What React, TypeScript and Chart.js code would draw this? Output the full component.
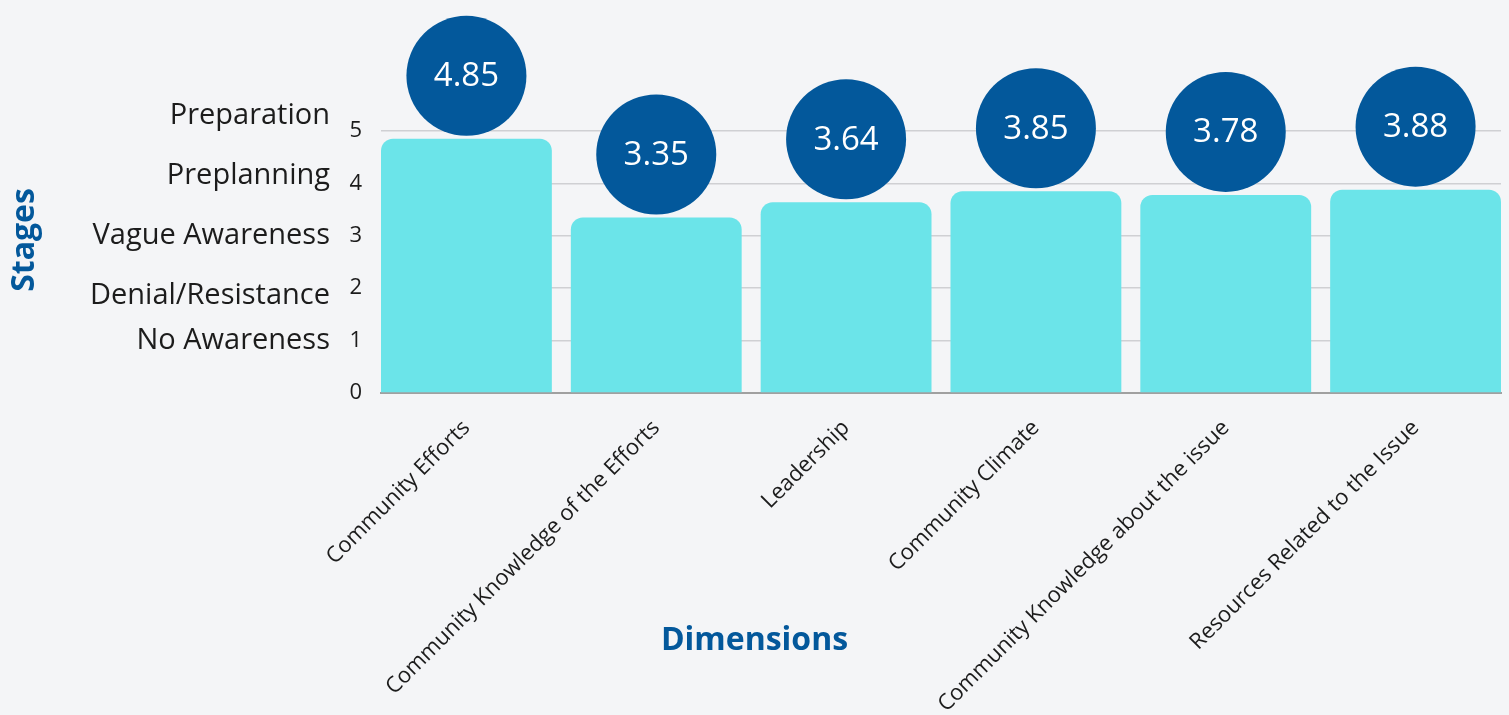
import React, { useEffect, useRef } from "react";
import { Chart, registerables } from "chart.js";

Chart.register(...registerables);

const categories = [
  "Community Efforts",
  "Community Knowledge of the Efforts",
  "Leadership",
  "Community Climate",
  "Community Knowledge about the issue",
  "Resources Related to the Issue",
];
const scores = [4.85, 3.35, 3.64, 3.85, 3.78, 3.88];
const stageLabels = ["No Awareness", "Denial/Resistance", "Vague Awareness", "Preplanning", "Preparation"];
const stageLevels = [1, 1.85, 3, 4.15, 5.3];
const xAxisTitle = "Dimensions";
const yAxisTitle = "Stages";

const FONT = '"Open Sans", "Noto Sans", sans-serif';
const DARK = "#03589b";
const BAR = "#6be4e9";
const BG = "#f4f5f7";

const overlay = {
  id: "overlay",
  afterDatasetsDraw(chart: any) {
    const ctx = chart.ctx;
    const area = chart.chartArea;
    const meta = chart.getDatasetMeta(0);
    ctx.save();
    meta.data.forEach((bar: any, i: number) => {
      const cx = bar.x;
      const cy = bar.y - 63;
      ctx.beginPath();
      ctx.arc(cx, cy, 60, 0, Math.PI * 2);
      ctx.fillStyle = DARK;
      ctx.fill();
      ctx.fillStyle = "#ffffff";
      ctx.font = `33px ${FONT}`;
      ctx.textAlign = "center";
      ctx.textBaseline = "middle";
      ctx.fillText(scores[i].toFixed(2), cx, cy + 1);
    });
    ctx.fillStyle = DARK;
    ctx.font = `bold 32px ${FONT}`;
    ctx.textAlign = "center";
    ctx.textBaseline = "middle";
    ctx.fillText(xAxisTitle, chart.width / 2, area.bottom + 248);
    ctx.translate(25, (area.top + area.bottom) / 2 - 22);
    ctx.rotate(-Math.PI / 2);
    ctx.fillText(yAxisTitle, 0, 0);
    ctx.restore();
  },
};

export default function App() {
  const ref = useRef<HTMLCanvasElement | null>(null);

  useEffect(() => {
    if (!ref.current) return;
    const chart = new Chart(ref.current, {
      type: "bar",
      data: {
        datasets: [
          {
            data: scores.map((v, i) => ({ x: i, y: v })),
            backgroundColor: BAR,
            borderRadius: 12,
            borderSkipped: "start",
            barPercentage: 0.9,
            categoryPercentage: 1,
            yAxisID: "y",
          },
        ],
      },
      options: {
        animation: false,
        responsive: true,
        maintainAspectRatio: false,
        layout: { padding: { top: 131, right: 8, bottom: 0, left: 0 } },
        plugins: {
          legend: { display: false },
          tooltip: { enabled: false },
        },
        scales: {
          x: {
            type: "linear",
            offset: false,
            min: -0.45,
            max: 5.45,
            afterBuildTicks: (scale: any) => {
              scale.ticks = categories.map((_, i) => ({ value: i }));
            },
            afterFit: (scale: any) => {
              scale.height = 322;
            },
            ticks: {
              autoSkip: false,
              minRotation: 45,
              maxRotation: 45,
              padding: 14,
              color: "#1c1c1c",
              font: { family: FONT, size: 22 },
              callback: (v: any) => categories[v] ?? "",
            },
            grid: { display: false, offset: false },
            border: { display: true, color: "#a0a0a0", width: 2 },
          },
          y: {
            type: "linear",
            position: "left",
            weight: 0,
            min: 0,
            max: 5,
            ticks: {
              stepSize: 1,
              padding: 19,
              color: "#1c1c1c",
              font: { family: FONT, size: 22 },
            },
            afterFit: (scale: any) => {
              scale.width = 40;
            },
            grid: { color: "#cfd0d3", lineWidth: 1.5, drawTicks: false },
            border: { display: false },
          },
          y2: {
            type: "linear",
            position: "left",
            weight: 10,
            min: 0,
            max: 5,
            afterBuildTicks: (scale: any) => {
              scale.ticks = stageLevels.map((v) => ({ value: v }));
            },
            afterFit: (scale: any) => {
              scale.width = 341;
            },
            ticks: {
              autoSkip: false,
              padding: 11,
              color: "#1c1c1c",
              font: { family: FONT, size: 29 },
              callback: (_v: any, i: number) => stageLabels[i],
            },
            grid: { display: false, drawTicks: false },
            border: { display: false },
          },
        },
      },
      plugins: [overlay],
    } as any);
    return () => chart.destroy();
  }, []);

  return (
    <div
      style={{
        position: "fixed",
        left: 0,
        top: 0,
        width: 1509,
        height: 715,
        background: BG,
      }}
    >
      <canvas ref={ref} />
    </div>
  );
}
